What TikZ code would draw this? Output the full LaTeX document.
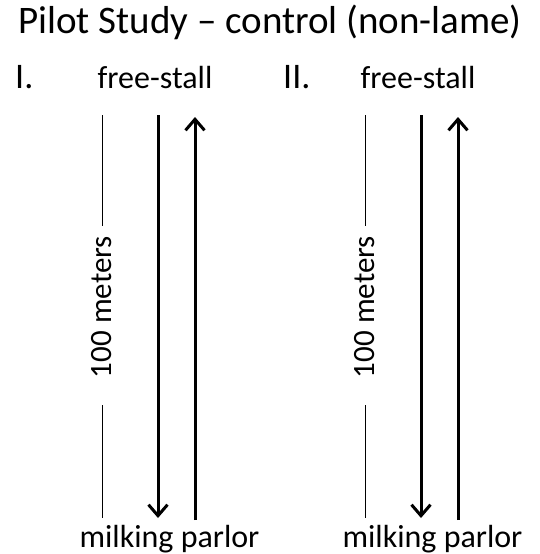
\documentclass[tikz,border=0pt]{standalone}
\usepackage{fontspec}
\setmainfont{Carlito}
\usetikzlibrary{arrows.meta}
\begin{document}
\begin{tikzpicture}[x=1pt,y=-1pt,
  titletext/.style={inner sep=0pt,anchor=base west,font=\fontsize{39}{42}\selectfont},
  numtext/.style={inner sep=0pt,anchor=base west,font=\fontsize{36}{40}\selectfont},
  labtext/.style={inner sep=0pt,anchor=base,font=\fontsize{32}{36}\selectfont},
  disttext/.style={inner sep=0pt,rotate=90,font=\fontsize{31}{34}\selectfont},
  thinline/.style={line width=0.8pt},
  walk/.style={line width=3pt,-{Straight Barb[length=11pt,width=19pt]}}]
\useasboundingbox (0,0) rectangle (540,554);
\node[titletext] (title) at (18,33) {Pilot Study -- control (non-lame)};
% Panel I
\node[numtext] (numI) at (15,88) {I.};
\node[labtext] (fsI) at (155,88) {free-stall};
\node[labtext] (mpI) at (169.5,547) {milking parlor};
\node[disttext] (distI) at (102,307) {100 meters};
\coordinate (tI1) at (102,115); \coordinate (tI2) at (102,226);
\coordinate (tI3) at (102,405); \coordinate (tI4) at (102,518);
\draw[thinline] (tI1) -- (tI2);
\draw[thinline] (tI3) -- (tI4);
\coordinate (dIs) at (158,115); \coordinate (dIe) at (158,518);
\coordinate (uIs) at (195,520); \coordinate (uIe) at (195,117);
\draw[walk] (dIs) -- (dIe);
\draw[walk] (uIs) -- (uIe);
% Panel II
\node[numtext] (numII) at (283,88) {II.};
\node[labtext] (fsII) at (418,88) {free-stall};
\node[labtext] (mpII) at (432.5,547) {milking parlor};
\node[disttext] (distII) at (365,307) {100 meters};
\coordinate (tII1) at (365,115); \coordinate (tII2) at (365,226);
\coordinate (tII3) at (365,405); \coordinate (tII4) at (365,518);
\draw[thinline] (tII1) -- (tII2);
\draw[thinline] (tII3) -- (tII4);
\coordinate (dIIs) at (421,115); \coordinate (dIIe) at (421,518);
\coordinate (uIIs) at (458,520); \coordinate (uIIe) at (458,117);
\draw[walk] (dIIs) -- (dIIe);
\draw[walk] (uIIs) -- (uIIe);
\end{tikzpicture}
\end{document}
